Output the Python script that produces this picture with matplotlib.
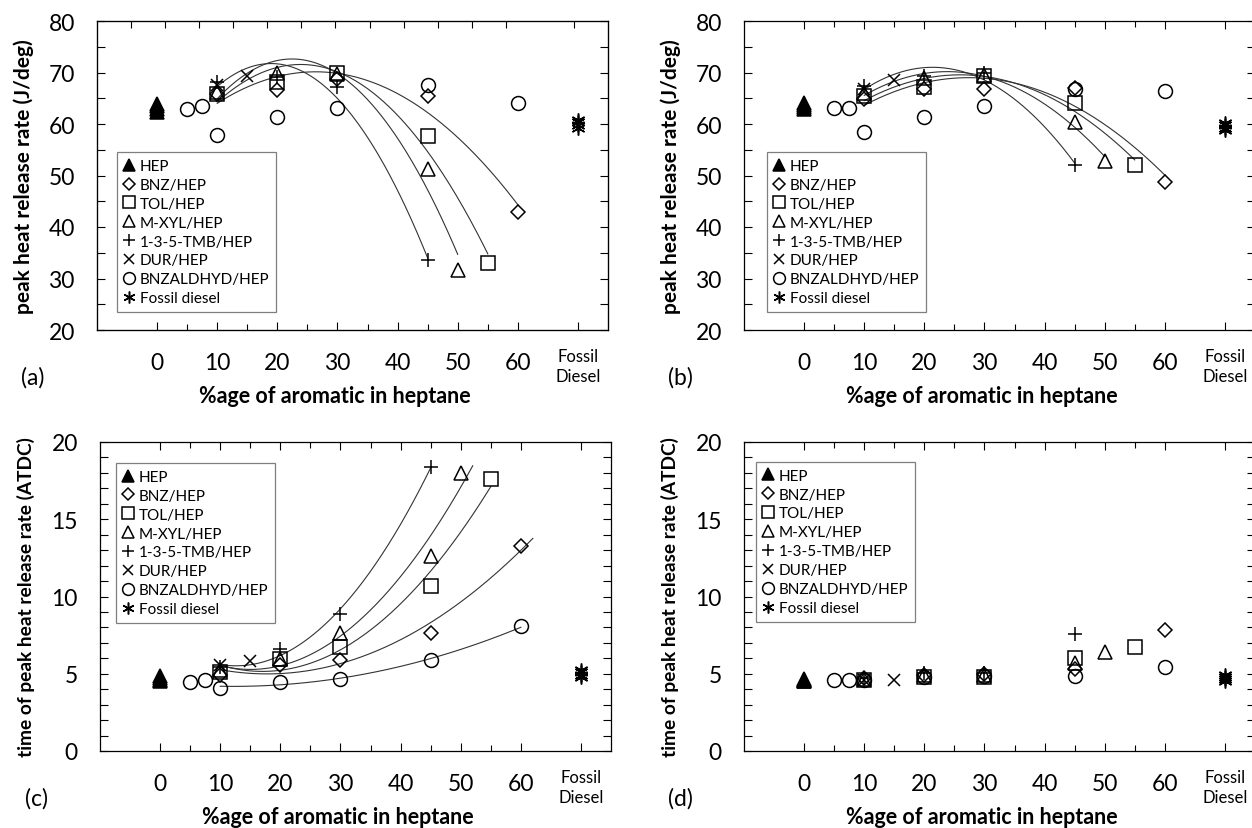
import numpy as np
import matplotlib
matplotlib.use('Agg')
import matplotlib.pyplot as plt

plt.rcParams['font.family'] = ['Lato', 'DejaVu Sans']

# % aromatic in heptane (fossil diesel is put at 70)
x_hep = [0, 0, 0, 0]
x_bnz = [10, 20, 30, 45, 60]
x_tol = [10, 20, 30, 45, 55]
x_mxyl = [10, 20, 30, 45, 50]
x_tmb = [10, 20, 30, 45]
x_dur = [10, 15]
x_bza = [5, 7.5, 10, 20, 30, 45, 60]
x_fd = [70, 70, 70, 70]

# (a) peak heat release rate (J/deg)
a_hep = [62.4, 62.9, 63.4, 63.9]
a_bnz = [65.8, 66.6, 68.7, 65.5, 43.0]
a_tol = [65.9, 68.1, 70.0, 57.7, 33.1]
a_mxyl = [66.2, 69.9, 69.8, 51.3, 31.7]
a_tmb = [68.2, 69.1, 67.1, 33.5]
a_dur = [67.5, 69.4]
a_bza = [62.9, 63.4, 57.9, 61.3, 63.2, 67.6, 64.0]
a_fd = [59.3, 59.8, 60.3, 60.8]

# (b) peak heat release rate (J/deg)
b_hep = [62.9, 63.3, 63.7, 64.0]
b_bnz = [64.9, 66.8, 66.7, 66.9, 48.8]
b_tol = [65.5, 67.1, 69.3, 64.1, 52.1]
b_mxyl = [66.0, 68.9, 69.5, 60.4, 52.9]
b_tmb = [67.3, 69.3, 69.9, 52.1]
b_dur = [66.8, 68.5]
b_bza = [63.2, 63.1, 58.5, 61.3, 63.4, 66.8, 66.4]
b_fd = [58.8, 59.3, 59.8, 60.2]

# (c) time of peak heat release rate (ATDC)
c_hep = [4.5, 4.62, 4.74, 4.86]
c_bnz = [4.9, 5.55, 5.87, 7.66, 13.25]
c_tol = [5.12, 5.94, 6.73, 10.67, 17.63]
c_mxyl = [5.23, 5.98, 7.66, 12.65, 17.98]
c_tmb = [5.44, 6.62, 8.84, 18.41]
c_dur = [5.55, 5.85]
c_bza = [4.47, 4.62, 4.09, 4.47, 4.69, 5.87, 8.06]
c_fd = [4.8, 4.95, 5.1, 5.25]

# (d) time of peak heat release rate (ATDC)
d_hep = [4.5, 4.55, 4.6, 4.65]
d_bnz = [4.7, 4.9, 5.0, 5.3, 7.85]
d_tol = [4.6, 4.8, 4.8, 6.0, 6.7]
d_mxyl = [4.65, 4.95, 4.95, 5.7, 6.4]
d_tmb = [4.7, 5.05, 5.05, 7.6]
d_dur = [4.6, 4.6]
d_bza = [4.6, 4.6, 4.6, 4.8, 4.85, 4.85, 5.45]
d_fd = [4.5, 4.65, 4.8, 4.95]

labels = ['HEP', 'BNZ/HEP', 'TOL/HEP', 'M-XYL/HEP', '1-3-5-TMB/HEP',
          'DUR/HEP', 'BNZALDHYD/HEP', 'Fossil diesel']
xs = [x_hep, x_bnz, x_tol, x_mxyl, x_tmb, x_dur, x_bza, x_fd]
markers = ['^', 'D', 's', '^', '+', 'x', 'o', (6, 2, 0)]
msizes = [10, 7, 10, 10, 10, 8, 10, 10]

W, H = 1252, 829
fig = plt.figure(figsize=(W / 100, H / 100), dpi=100)


def add_ax(left, top, right, bottom):
    return fig.add_axes([left / W, 1 - bottom / H, (right - left) / W, (bottom - top) / H])


def panel(ax, ys, curves, letter, ylabel, ylim, ystep, yminor, leg_loc, leg_anchor,
          top_odd=False):
    for i in range(8):
        filled = (i == 0)
        ax.plot(xs[i], ys[i], ls='none', marker=markers[i], ms=msizes[i],
                mfc='black' if filled else 'none', mec='black', mew=1.1,
                label=labels[i], zorder=3)
    # 2nd order trendlines, drawn from 10 %
    for i, xmax in curves:
        x = np.array(xs[i], float)
        y = np.array(ys[i], float)
        keep = x >= 10
        p = np.polyfit(x[keep], y[keep], 2)
        xx = np.linspace(10, xmax, 200)
        ax.plot(xx, np.polyval(p, xx), color='#333333', lw=0.8, zorder=2)

    ax.set_xlim(-10, 75)
    ax.set_ylim(*ylim)
    ax.set_xticks(range(0, 71, 10))
    ax.set_xticklabels([str(v) for v in range(0, 61, 10)] + [''])
    ax.set_xticks(range(5, 60, 10), minor=True)
    ax.set_yticks(np.arange(ylim[0], ylim[1] + 0.1, ystep))
    ax.set_yticks(np.arange(ylim[0], ylim[1] + 0.1, yminor), minor=True)
    ax.tick_params(which='both', direction='in', right=True, top=not top_odd,
                   labelsize=16.5, pad=16, width=0.8)
    ax.tick_params(which='major', length=6)
    ax.tick_params(which='minor', length=4.5)
    ax.tick_params(axis='y', which='minor', length=6)
    for s in ax.spines.values():
        s.set_linewidth(0.9)

    if top_odd:
        # top axis of (a) has its own spacing
        ax2 = ax.twiny()
        ax2.set_xlim(0, 15)
        ax2.set_xticks([k for k in range(1, 15) if k != 13])
        ax2.tick_params(direction='in', length=5, width=0.8, labeltop=False)

    ax.annotate('Fossil\nDiesel', xy=(70, 0), xycoords=('data', 'axes fraction'),
                xytext=(0, -26), textcoords='offset points', ha='center', va='center',
                fontsize=12, linespacing=1.3)
    ax.annotate('%age of aromatic in heptane', xy=(0.466, 0), xycoords='axes fraction',
                xytext=(0, -47), textcoords='offset points', ha='center', va='center',
                fontsize=15.5, fontweight='bold')
    ax.annotate(ylabel, xy=(0, 0.5), xycoords='axes fraction',
                xytext=(-53, 0), textcoords='offset points', ha='center', va='center',
                rotation=90, fontsize=15 if ylim[1] > 50 else 13.8, fontweight='bold')
    ax.annotate(letter, xy=(0, 0), xycoords='axes fraction',
                xytext=(-46, -34), textcoords='offset points', ha='center', va='center',
                fontsize=16.5)

    leg = ax.legend(loc=leg_loc, bbox_to_anchor=leg_anchor, borderaxespad=0,
                    fontsize=11, handlelength=0.7, handletextpad=0.35,
                    labelspacing=0.32, borderpad=0.45, fancybox=False,
                    framealpha=1, edgecolor='#7f7f7f', markerscale=0.85)
    leg.get_frame().set_linewidth(0.9)


ax_a = add_ax(97, 22, 608, 331)
ax_b = add_ax(744, 22, 1255, 331)
ax_c = add_ax(100, 443, 611, 752)
ax_d = add_ax(744, 443, 1255, 752)

lab_top = 'peak heat release rate (J/deg)'
lab_bot = 'time of peak heat release rate (ATDC)'

panel(ax_a, [a_hep, a_bnz, a_tol, a_mxyl, a_tmb, a_dur, a_bza, a_fd],
      [(1, 60), (2, 55), (3, 50), (4, 45)], '(a)', lab_top, (20, 80), 10, 5,
      'lower left', (0.039, 0.058), top_odd=True)
panel(ax_b, [b_hep, b_bnz, b_tol, b_mxyl, b_tmb, b_dur, b_bza, b_fd],
      [(1, 60), (2, 55), (3, 50), (4, 45)], '(b)', lab_top, (20, 80), 10, 5,
      'lower left', (0.045, 0.058))
panel(ax_c, [c_hep, c_bnz, c_tol, c_mxyl, c_tmb, c_dur, c_bza, c_fd],
      [(1, 62), (2, 55), (3, 52), (4, 45), (6, 60)], '(c)', lab_bot, (0, 20), 5, 1,
      'upper left', (0.031, 0.932))
panel(ax_d, [d_hep, d_bnz, d_tol, d_mxyl, d_tmb, d_dur, d_bza, d_fd],
      [], '(d)', lab_bot, (0, 20), 5, 1,
      'upper left', (0.023, 0.936))

fig.savefig('out.png', dpi=100)
